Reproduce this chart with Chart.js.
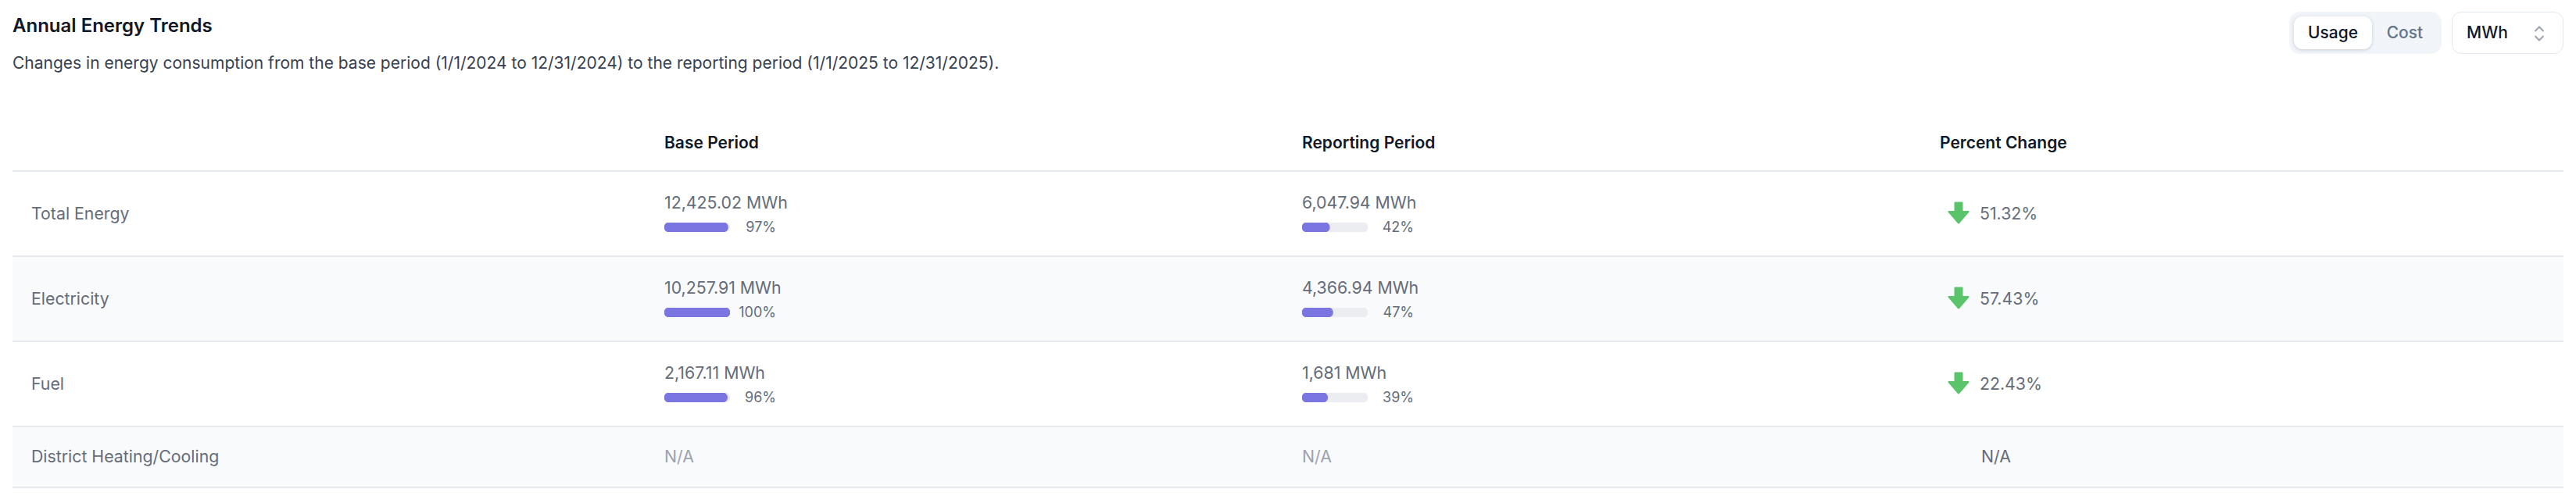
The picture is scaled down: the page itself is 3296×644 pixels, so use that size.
<!DOCTYPE html>
<html lang="en">
<head>
  <meta charset="UTF-8">
  <title>Annual Energy Trends</title>
  <script src="https://cdn.jsdelivr.net/npm/chart.js"></script>
  <style>
    html, body { margin: 0; padding: 0; background: #fff; }
    body { width: 3296px; height: 644px; position: relative; overflow: hidden; font-family: Inter, sans-serif; color: #656c79; }
    h1 { position: absolute; left: 16px; top: 16px; margin: 0; font-size: 24px; line-height: 34px; font-weight: 600; color: #111827; }
    .sub { position: absolute; left: 16px; top: 64px; margin: 0; font-size: 21px; line-height: 34px; color: #374151; }
    .seg { position: absolute; left: 2929px; top: 15px; width: 195px; height: 54px; border-radius: 14px; background: #f1f5f9; }
    .seg span { position: absolute; top: 6px; height: 42px; line-height: 42px; text-align: center; font-size: 21px; font-weight: 500; }
    .seg .on { left: 6px; width: 100px; background: #fff; border-radius: 11px; color: #0f172a; box-shadow: 0 1px 4px rgba(15,23,42,.18); }
    .seg .off { left: 110px; width: 76px; color: #64748b; }
    .unit { position: absolute; left: 3137px; top: 15px; width: 141px; height: 52px; border: 1px solid #e2e8f0; border-radius: 12px; line-height: 52px; font-size: 21px; font-weight: 500; color: #0f172a; text-indent: 18px; }
    .unit svg { position: absolute; left: 104px; top: 17px; }
    #table { position: absolute; left: 16px; top: 146px; width: 3264px; }
    .row { display: grid; grid-template-columns: 834px 816px 816px 798px; height: 107px; border-bottom: 2px solid #e5e9f0; align-items: center; font-size: 21.3px; box-sizing: content-box; }
    .row.head { height: 72px; font-weight: 600; font-size: 21px; color: #111827; }
    .row.alt { background: #f9fafb; }
    .row.last { height: 76px; }
    .row .name { padding-left: 24px; position: relative; top: -1px; }
    .val { line-height: 28px; }
    .bar-line { display: flex; align-items: center; height: 20px; margin-top: 8px; font-size: 18px; }
    .bar-line canvas { display: block; }
    .bar-line b { font-weight: 400; width: 59px; text-align: right; }
    .cell { position: relative; top: -1px; }
    .na { color: #9ca3af; position: relative; top: -1px; }
    .chg { display: flex; align-items: center; padding-left: 10px; position: relative; top: -1px; }
    .chg svg { margin-right: 13px; }
    .chg-na { padding-left: 53px; position: relative; top: -1px; }
  </style>
</head>
<body>
<h1>Annual Energy Trends</h1>
<p class="sub">Changes in energy consumption from the base period (1/1/2024 to 12/31/2024) to the reporting period (1/1/2025 to 12/31/2025).</p>
<div class="seg"><span class="on">Usage</span><span class="off">Cost</span></div>
<div class="unit">MWh
  <svg width="14" height="20" viewBox="0 0 14 20" fill="none" stroke="#9ca3af" stroke-width="2"><path d="M1.5 7 L7 1.5 L12.5 7"/><path d="M1.5 13 L7 18.5 L12.5 13"/></svg>
</div>
<div id="table"></div>

<script>
  const categories = ['Total Energy', 'Electricity', 'Fuel', 'District Heating/Cooling'];
  const columns = ['Base Period', 'Reporting Period', 'Percent Change'];
  const baseValues = ['12,425.02 MWh', '10,257.91 MWh', '2,167.11 MWh', null];
  const basePercents = [97, 100, 96, null];
  const reportingValues = ['6,047.94 MWh', '4,366.94 MWh', '1,681 MWh', null];
  const reportingPercents = [42, 47, 39, null];
  const percentChanges = ['51.32%', '57.43%', '22.43%', null];

  const arrow = '<svg width="28" height="29" viewBox="0 0 28 29"><path fill="#5bc46b" stroke="#5bc46b" stroke-width="2" stroke-linejoin="round" d="M9.5 1.5 H18.5 V13 H26.5 L14 27.5 L1.5 13 H9.5 Z"/></svg>';

  function valueCell(value, percent) {
    if (value === null) return '<div class="na">N/A</div>';
    return `<div class="cell"><div class="val">${value}</div>` +
      `<div class="bar-line"><canvas width="84" height="12" style="width:84px;height:12px" data-percent="${percent}"></canvas><b>${percent}%</b></div></div>`;
  }

  let html = `<div class="row head"><div></div>${columns.map(c => `<div>${c}</div>`).join('')}</div>`;
  categories.forEach((name, i) => {
    const change = percentChanges[i] === null
      ? '<div class="chg-na">N/A</div>'
      : `<div class="chg">${arrow}<span>${percentChanges[i]}</span></div>`;
    const cls = 'row' + (i % 2 ? ' alt' : '') + (i === categories.length - 1 ? ' last' : '');
    html += `<div class="${cls}"><div class="name">${name}</div>${valueCell(baseValues[i], basePercents[i])}${valueCell(reportingValues[i], reportingPercents[i])}${change}</div>`;
  });
  document.getElementById('table').innerHTML = html;

  // one small horizontal bar per cell, track behind the value
  document.querySelectorAll('canvas[data-percent]').forEach(canvas => {
    new Chart(canvas, {
      type: 'bar',
      data: {
        labels: [''],
        datasets: [
          { data: [Number(canvas.dataset.percent)], backgroundColor: '#7a75e0', borderRadius: 6, borderSkipped: false, barThickness: 12, order: 1 },
          { data: [100], backgroundColor: '#ebedf1', borderRadius: 6, borderSkipped: false, barThickness: 12, order: 2 }
        ]
      },
      options: {
        indexAxis: 'y',
        responsive: false,
        animation: false,
        devicePixelRatio: 1,
        layout: { padding: 0 },
        datasets: { bar: { grouped: false } },
        plugins: { legend: { display: false }, tooltip: { enabled: false } },
        scales: {
          x: { display: false, min: 0, max: 100 },
          y: { display: false }
        }
      }
    });
  });
</script>
</body>
</html>
